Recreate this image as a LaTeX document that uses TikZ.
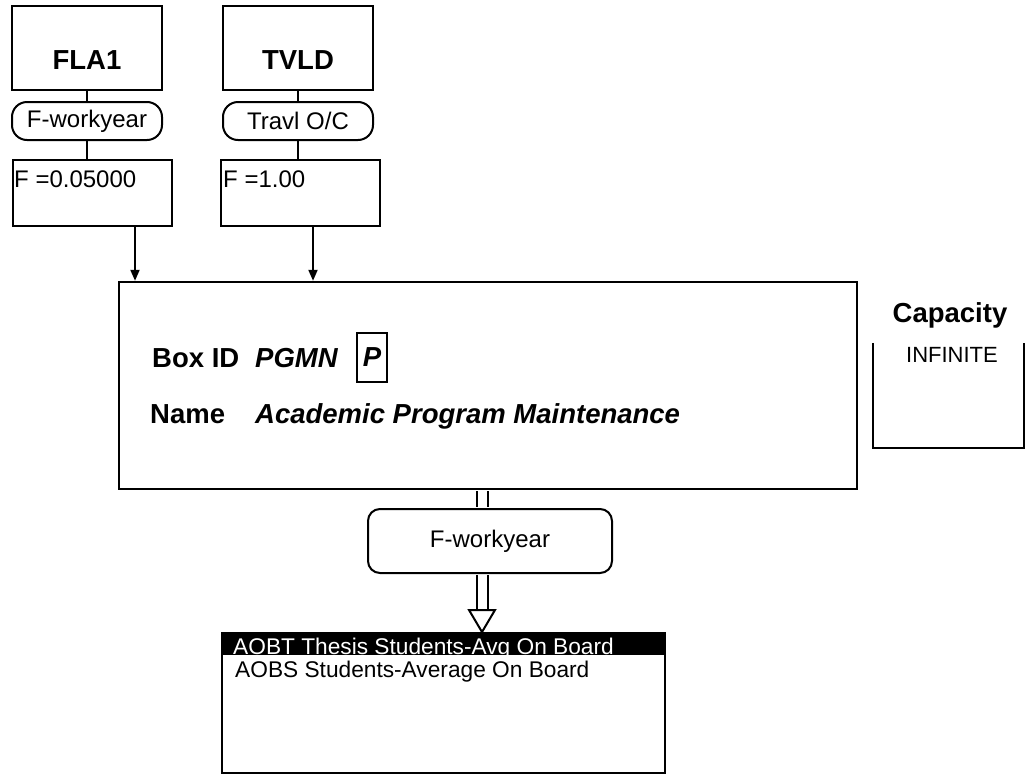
\documentclass[tikz,border=0pt]{standalone}
\usepackage{fontspec}
\setmainfont{Liberation Sans}
\usetikzlibrary{arrows.meta,calc}

\newcommand{\txtreg}{\fontsize{24}{28}\selectfont}
\newcommand{\txtsml}{\fontsize{22.7}{27}\selectfont}
\newcommand{\txtbig}{\fontsize{27.5}{32}\selectfont\bfseries}

\tikzset{
  srcbox/.style={draw, line width=2.4pt, minimum width=150pt, minimum height=84pt, inner sep=0pt},
  costbox/.style={draw, line width=2pt, rounded corners=15pt, minimum width=150pt, minimum height=38pt, inner sep=0pt, font=\txtreg},
  ratebox/.style={draw, line width=2pt, minimum width=159pt, minimum height=66pt, inner sep=0pt},
  link/.style={line width=2pt},
  flowarrow/.style={line width=2pt, -{Triangle[length=11pt,width=9pt]}},
  wide/.style={line width=2pt, double, double distance=9pt, shorten <=1.2pt, shorten >=1pt},
  plain/.style={inner sep=0pt, font=\txtreg},
  heading/.style={inner sep=0pt, font=\txtbig}
}

\begin{document}
\begin{tikzpicture}[x=1pt,y=-1pt]
  \useasboundingbox (0,0) rectangle (1031,782);

  % Source boxes
  \node[srcbox] (fla) at (87,48) {};
  \node[srcbox] (tvld) at (298,48) {};
  \node[heading] (flaname) at (87,60) {FLA1};
  \node[heading] (tvldname) at (298,60) {TVLD};

  % Cost names
  \node[costbox] (flacost) at (87,121) {F-workyear};
  \node[costbox] (tvldcost) at (298,121) {Travl O/C};

  % Factors
  \node[ratebox] (flarate) at (92.5,193) {};
  \node[ratebox] (tvldrate) at (300.5,193) {};
  \node[plain, anchor=base west] (flaf) at (14,187) {F =0.05000};
  \node[plain, anchor=base west] (tvldf) at (223,187) {F =1.00};

  \draw[link] (fla) -- (flacost);
  \draw[link] (tvld) -- (tvldcost);
  \draw[link] (flacost.south) -- (flacost.south |- flarate.north);
  \draw[link] (tvldcost.south) -- (tvldcost.south |- tvldrate.north);

  % Main box
  \node[draw, line width=2.4pt, minimum width=738pt, minimum height=207pt] (pgmn) at (488,385.5) {};
  \draw[flowarrow] ([xshift=42.5pt]flarate.south) -- ([xshift=42.5pt]flarate.south |- pgmn.north);
  \draw[flowarrow] ([xshift=12.5pt]tvldrate.south) -- ([xshift=12.5pt]tvldrate.south |- pgmn.north);

  \node[heading, anchor=base west] (boxid) at (152,367) {Box ID};
  \node[heading, anchor=base west, font=\txtbig\itshape] (boxcode) at (255,367) {PGMN};
  \node[draw, line width=2.4pt, minimum width=30pt, minimum height=49pt, inner sep=0pt, font=\txtbig\itshape] (ptype) at (372,357.5) {P};
  \node[heading, anchor=base west] (namelbl) at (150,423) {Name};
  \node[heading, anchor=base west, font=\txtbig\itshape] (pgmnname) at (255,423) {Academic Program Maintenance};

  % Capacity
  \node[heading, anchor=base] (caplbl) at (950,322) {Capacity};
  \node[minimum width=151pt, minimum height=105pt, inner sep=0pt] (capbox) at (948.5,395.5) {};
  \draw[line width=1.6pt] (capbox.north west) -- (capbox.south west) -- (capbox.south east) -- (capbox.north east);
  \node[plain, anchor=base, font=\fontsize{22}{26}\selectfont] (capval) at (952,362) {INFINITE};

  % Output
  \coordinate (flowx) at (482,0);
  \node[draw, line width=2pt, rounded corners=12pt, minimum width=244pt, minimum height=64pt, font=\txtreg] (outcost) at (490,541) {F-workyear};
  \node[draw, line width=2pt, minimum width=443pt, minimum height=140pt, inner sep=0pt] (outbox) at (443.5,703) {};
  \coordinate (tipbase) at (482,610);
  \draw[wide] (pgmn.south -| flowx) -- (outcost.north -| flowx);
  \draw[wide, shorten >=0pt] (outcost.south -| flowx) -- (tipbase);
  \draw[link, fill=white] ([xshift=-13pt]tipbase) -- ([xshift=13pt]tipbase) -- (tipbase |- outbox.north) -- cycle;

  \node[fill=black, minimum width=443pt, minimum height=23pt, inner sep=0pt, anchor=north] (hdr) at (outbox.north) {};
  \begin{scope}
    \clip (hdr.north west) rectangle (hdr.south east);
    \node[plain, text=white, anchor=base west, font=\txtsml] (aobt) at (233,654) {AOBT Thesis Students-Avg On Board};
  \end{scope}
  \node[plain, anchor=base west, font=\txtsml] (aobs) at (235,677) {AOBS Students-Average On Board};
\end{tikzpicture}
\end{document}
